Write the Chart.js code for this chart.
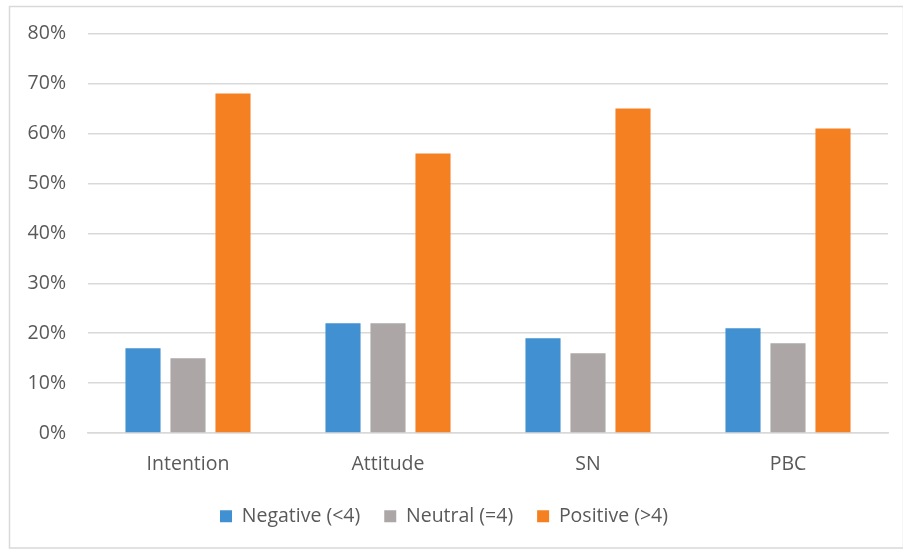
<!DOCTYPE html>
<html>
<head>
<meta charset="utf-8">
<script src="https://cdn.jsdelivr.net/npm/chart.js@4/dist/chart.umd.min.js"></script>
<style>
  html, body { margin: 0; padding: 0; background: #fff; }
  #wrap { position: relative; width: 903px; height: 549px; }
  canvas { display: block; }
</style>
</head>
<body>
<div id="wrap"><canvas id="c" width="903" height="549"></canvas></div>
<script>
const categories = ['Intention', 'Attitude', 'SN', 'PBC'];
const negative = [17, 22, 19, 21];
const neutral  = [15, 22, 16, 18];
const positive = [68, 56, 65, 61];
const seriesNames = ['Negative (<4)', 'Neutral (=4)', 'Positive (>4)'];
const tickValues = [0, 10, 20, 30, 40, 50, 60, 70, 80];

const FONT = '"Open Sans", Lato, "Liberation Sans", sans-serif';
const TEXT = '#595959';
const GRID = '#d9d9d9';

// outer frame around the whole figure
const framePlugin = {
  id: 'frame',
  beforeDraw(chart) {
    const ctx = chart.ctx;
    ctx.save();
    ctx.fillStyle = '#fff';
    ctx.fillRect(0, 0, chart.width, chart.height);
    ctx.strokeStyle = GRID;
    ctx.lineWidth = 1.5;
    ctx.strokeRect(9.5, 6.5, chart.width - 9, chart.height - 7.5);
    ctx.restore();
  }
};

new Chart(document.getElementById('c'), {
  type: 'bar',
  data: {
    labels: categories,
    datasets: [
      { label: seriesNames[0], data: negative, backgroundColor: '#4190d1' },
      { label: seriesNames[1], data: neutral,  backgroundColor: '#aca7a6' },
      { label: seriesNames[2], data: positive, backgroundColor: '#f58021' }
    ]
  },
  options: {
    responsive: false,
    animation: false,
    devicePixelRatio: 1,
    categoryPercentage: 0.675,
    barPercentage: 0.78,
    layout: { padding: { left: 0, right: 15, top: 25, bottom: 13 } },
    plugins: {
      tooltip: { enabled: false },
      legend: {
        position: 'bottom',
        labels: {
          color: TEXT,
          font: { family: FONT, size: 19.5 },
          boxWidth: 12,
          boxHeight: 12,
          padding: 24
        }
      }
    },
    scales: {
      x: {
        // wider legend spacing adds room above the legend; take it back here
        afterFit(scale) { scale.height -= 14; },
        grid: { display: false, drawTicks: false },
        border: { color: GRID, width: 1.5 },
        ticks: { color: TEXT, font: { family: FONT, size: 19.5 }, padding: 20 }
      },
      y: {
        min: 0,
        max: 80,
        afterFit(scale) { scale.width = 88; },
        afterBuildTicks(scale) { scale.ticks = tickValues.map(v => ({ value: v })); },
        grid: { color: GRID, lineWidth: 1.5, drawTicks: false },
        border: { display: false },
        ticks: {
          color: TEXT,
          font: { family: FONT, size: 19.5 },
          padding: 22,
          callback: v => v + '%'
        }
      }
    }
  },
  plugins: [framePlugin]
});
</script>
</body>
</html>
